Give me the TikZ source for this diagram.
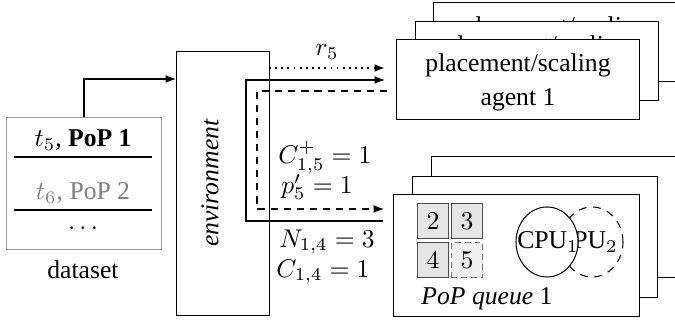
\documentclass[tikz,border=0pt]{standalone}
\usepackage[no-math]{fontspec}
\setmainfont{Liberation Serif}
\usetikzlibrary{arrows.meta,shapes.geometric}
\def\pxu{0.39pt}
\definecolor{dsgray}{gray}{0.6}
\definecolor{txgray}{gray}{0.5}
\tikzset{
  box/.style={draw, fill=white, rectangle, inner sep=0pt, anchor=north west, align=center},
  bw/.style={minimum width={#1*\pxu}},
  bh/.style={minimum height={#1*\pxu}},
  sq/.style={draw=black!70, fill=black!10, rectangle, inner sep=0pt, anchor=north west, bw=31, bh=35},
  sqnew/.style={draw=black!55, dash pattern=on 2.2pt off 1.6pt, fill=black!6, rectangle, inner sep=0pt, anchor=north west, bw=31, bh=35},
  cpu/.style={ellipse, inner sep=0pt, bw=62, bh=70},
  txt/.style={inner sep=0pt},
  agtxt/.style={inner sep=0pt, align=center, yshift=-1.2pt},
  tip/.style={-{Latex[length=4pt,width=3pt]}},
  conn/.style={line width=0.45pt},
}
\begin{document}
\begin{tikzpicture}[x=0.39pt, y=-0.39pt, font=\fontsize{10}{13.3}\selectfont]
\clip (0,0) rectangle (675,322);
% agent stack
\node[box, bw=243, bh=79] (ag3) at (433,2) {};
\node[agtxt] (ag3t) at (ag3.center) {placement/scaling\\agent 3};
\node[box, bw=243, bh=79] (ag2) at (415,21) {};
\node[agtxt] (ag2t) at (ag2.center) {placement/scaling\\agent 2};
\node[box, bw=243, bh=80] (ag1) at (396,39) {};
\node[agtxt] (ag1t) at (ag1.center) {placement/scaling\\agent 1};
% PoP stack
\node[box, bw=250, bh=121] (pq3) at (431,156) {};
\node[box, bw=245, bh=121] (pq2) at (412,176) {};
\node[box, bw=246, bh=122] (pq1) at (393,194) {};
\node[sq] (s2) at (417,203) {$2$};
\node[sq] (s3) at (451,203) {$3$};
\node[sq] (s4) at (417,242) {$4$};
\node[sqnew] (s5) at (451,242) {$5$};
\node[cpu, draw, dash pattern=on 3pt off 2.6pt] (c2) at (592,242) {};
\node[txt] (c2t) at (587,242) {CPU$_2$};
\node[cpu, draw, fill=white] (c1) at (547,242) {};
\node[txt] (c1t) at (548,242) {CPU$_1$};
\node[txt] (pql) at (487,299) {\textit{PoP queue} 1};
% dataset
\node[box, draw=dsgray, bw=155, bh=132] (ds) at (6,117) {};
\node[txt] (r1) at (83,140) {$t_5$, \textbf{PoP 1}};
\node[txt, text=txgray] (r2) at (83,193) {$t_6$, PoP 2};
\node[txt] (r3) at (83,228) {$\dots$};
\node[txt] (dsl) at (83,270) {dataset};
\coordinate (l1a) at (14,157); \coordinate (l1b) at (152,157);
\coordinate (l2a) at (14,210); \coordinate (l2b) at (152,210);
\draw (l1a) -- (l1b);
\draw (l2a) -- (l2b);
% environment
\node[box, bw=93, bh=264] (env) at (176,51) {};
\node[txt, rotate=90] (envt) at (210,183) {\textit{environment}};
% connectors
\coordinate (dsup) at (83,79);
\draw[conn, tip] (ds.north) |- (env.west |- dsup);
\coordinate (rS) at (269,68);
\coordinate (rE) at (385,68);
\draw[tip, line width=0.7pt, dash pattern=on 0.7pt off 1.7pt] (rS) -- (rE);
\node[txt] (rl) at (327,52) {$r_5$};
\coordinate (sA) at (383,221);
\coordinate (sB) at (246,221);
\coordinate (sC) at (246,80);
\coordinate (sD) at (385,80);
\draw[conn, tip] (sA) -- (sB) -- (sC) -- (sD);
\coordinate (dA) at (387,91);
\coordinate (dB) at (257,91);
\coordinate (dC) at (257,209);
\coordinate (dD) at (384,209);
\draw[conn, tip, dash pattern=on 2.8pt off 2.3pt] (dA) -- (dB) -- (dC) -- (dD);
\node[txt] (lc5) at (325,158) {$C^+_{1,5}=1$};
\node[txt] (lp5) at (317,187) {$p'_5=1$};
\node[txt] (ln4) at (327,242) {$N_{1,4}=3$};
\node[txt] (lc4) at (323,272) {$C_{1,4}=1$};
\end{tikzpicture}
\end{document}
